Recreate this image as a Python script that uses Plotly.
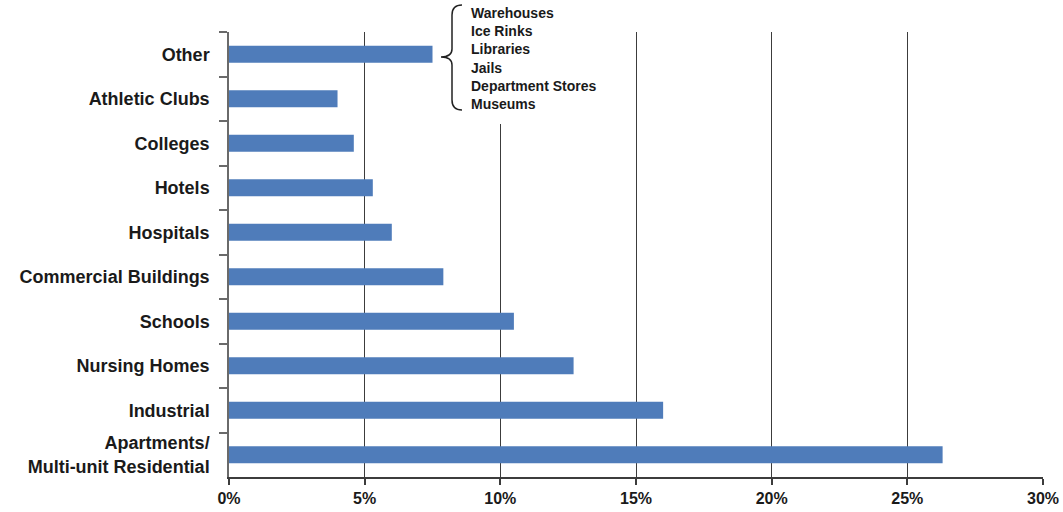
import plotly.graph_objects as go

# ---- data ----
categories = [
    "Other",
    "Athletic Clubs",
    "Colleges",
    "Hotels",
    "Hospitals",
    "Commercial Buildings",
    "Schools",
    "Nursing Homes",
    "Industrial",
    "Apartments/<br>Multi-unit Residential",
]
values = [7.5, 4.0, 4.6, 5.3, 6.0, 7.9, 10.5, 12.7, 16.0, 26.3]
other_items = ["Warehouses", "Ice Rinks", "Libraries", "Jails", "Department Stores", "Museums"]
x_tickvals = [0, 5, 10, 15, 20, 25, 30]
x_ticktext = ["0%", "5%", "10%", "15%", "20%", "25%", "30%"]

# ---- layout geometry (pixels) ----
W, H = 1063, 512
ML, MR, MT, MB = 229, 20, 32, 35
PW, PH = W - ML - MR, H - MT - MB


def px(x):
    return (x - ML) / PW


def py(y):
    return (H - MB - y) / PH


FONT = "Liberation Sans, Arial, sans-serif"
BAR = "#4f7cba"
LINE = "#3c3c3c"

fig = go.Figure(
    go.Bar(
        x=values,
        y=categories,
        orientation="h",
        marker=dict(color=BAR, line=dict(width=0)),
        hoverinfo="x+y",
    )
)

# brace path (pixel coordinates converted to paper)
pts = [
    ("M", [(462, 5)]),
    ("Q", [(452, 5), (452, 15)]),
    ("L", [(452, 49)]),
    ("Q", [(452, 57), (441, 57)]),
    ("Q", [(452, 57), (452, 65)]),
    ("L", [(452, 100)]),
    ("Q", [(452, 110), (462, 110)]),
]
path = " ".join(
    cmd + " " + " ".join(f"{px(a):.5f},{py(b):.5f}" for a, b in coords) for cmd, coords in pts
)

fig.update_layout(
    width=W,
    height=H,
    margin=dict(l=ML, r=MR, t=MT, b=MB, pad=0, autoexpand=False),
    paper_bgcolor="white",
    plot_bgcolor="white",
    bargap=0.62,
    showlegend=False,
    font=dict(family=FONT, color="#1a1a1a"),
    xaxis=dict(
        range=[0, 30],
        tickvals=x_tickvals,
        ticktext=x_ticktext,
        showgrid=True,
        gridcolor=LINE,
        gridwidth=1.4,
        zeroline=False,
        showline=True,
        linecolor=LINE,
        linewidth=1.5,
        ticks="outside",
        ticklen=6,
        tickwidth=1.5,
        tickcolor=LINE,
        tickfont=dict(size=16, family=FONT, weight="bold", color="#1a1a1a"),
        ticklabelstandoff=0,
        fixedrange=True,
    ),
    yaxis=dict(
        autorange="reversed",
        showgrid=False,
        zeroline=False,
        showline=True,
        linecolor="#6a6a6a",
        linewidth=1.5,
        ticks="outside",
        tickson="boundaries",
        ticklen=8,
        tickwidth=1.5,
        tickcolor="#6a6a6a",
        tickfont=dict(size=18, family=FONT, weight="bold", color="#1a1a1a"),
        ticklabelstandoff=14,
        fixedrange=True,
    ),
    shapes=[
        dict(
            type="rect",
            xref="paper",
            yref="paper",
            x0=px(465),
            x1=px(610),
            y0=py(124),
            y1=py(0),
            fillcolor="white",
            line=dict(width=0),
            layer="above",
        ),
        dict(
            type="path",
            xref="paper",
            yref="paper",
            path=path,
            line=dict(color="#222222", width=1.5),
            layer="above",
        ),
    ],
    annotations=[
        dict(
            xref="paper",
            yref="paper",
            x=px(469),
            y=py(58),
            xanchor="left",
            yanchor="middle",
            align="left",
            showarrow=False,
            text="<br>".join(other_items),
            font=dict(size=14, family=FONT, weight="bold", color="#1a1a1a"),
        )
    ],
)

fig.write_html(
    "out.html",
    config={"displayModeBar": False},
    post_script="document.body.style.margin='0';document.body.style.overflow='hidden';",
)
